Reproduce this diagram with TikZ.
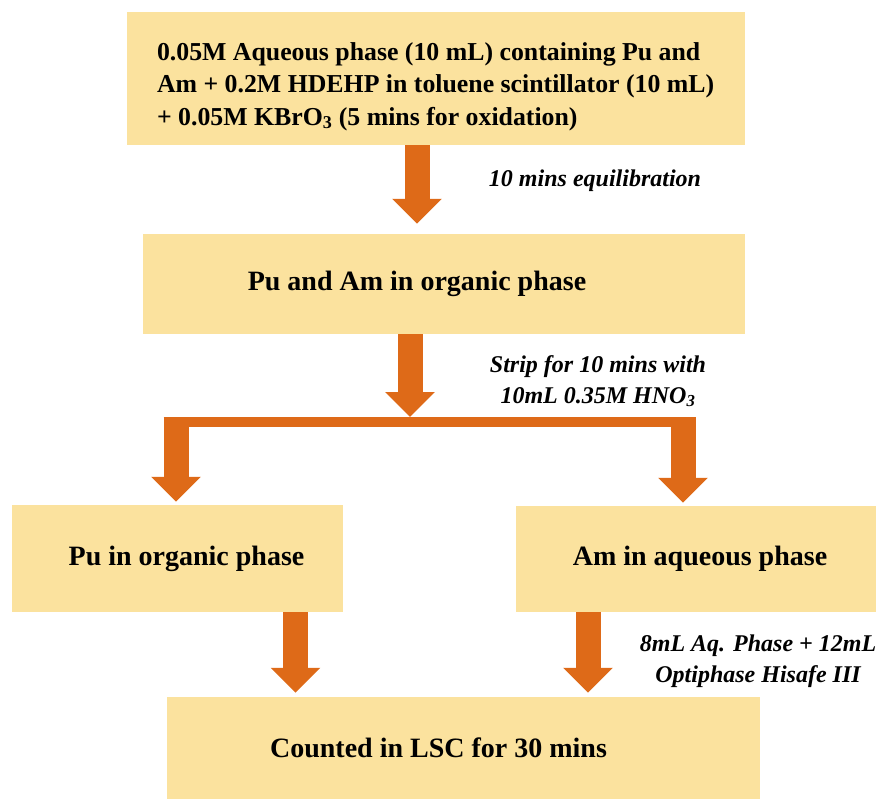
\documentclass[tikz,border=0pt]{standalone}
\usepackage{fontspec}
\setmainfont{Liberation Serif}
\usetikzlibrary{arrows.meta}
\definecolor{boxfill}{RGB}{251,226,158}
\definecolor{arroworange}{RGB}{222,106,24}
\tikzset{
  stepbox/.style={fill=boxfill, inner sep=0pt, font=\fontsize{28}{34}\selectfont\bfseries},
  note/.style={align=center, font=\fontsize{24}{31}\selectfont\bfseries\itshape},
  fatarrow/.style={draw=arroworange, line width=25pt, -{Triangle[width=48pt,length=25pt]}},
  barline/.style={draw=arroworange, line width=10pt}
}

\begin{document}
\begin{tikzpicture}[x=1pt, y=-1pt]
\useasboundingbox (0,0) rectangle (877,799);

% boxes
\node[stepbox, align=left, font=\fontsize{25.8}{32.5}\selectfont\bfseries,
      minimum width=618pt, minimum height=133pt] (start) at (436,78.5)
  {\parbox{558pt}{\vspace*{16pt}0.05M Aqueous phase (10 mL) containing Pu and\\
   Am + 0.2M HDEHP in toluene scintillator (10 mL)\\
   + 0.05M KBrO\textsubscript{3} (5 mins for oxidation)}};
\node[stepbox, minimum width=602pt, minimum height=100pt] (org) at (444,284)
  {Pu and Am in organic phase\hspace*{54pt}};
\node[stepbox, minimum width=331pt, minimum height=107pt] (pu) at (177.5,558.5)
  {\hspace*{18pt}Pu in organic phase};
\node[stepbox, minimum width=360pt, minimum height=106pt] (am) at (696,559)
  {\hspace*{8pt}Am in aqueous phase};
\node[stepbox, minimum width=593pt, minimum height=102pt] (lsc) at (463.5,748)
  {Counted in LSC for 30 mins\hspace*{50pt}};

% labels next to the arrows
\node[note] (equil) at (595,181) {10 mins equilibration};
\node[note] (strip) at (598,381) {Strip for 10 mins with\\10mL 0.35M HNO\textsubscript{3}};
\node[note] (cocktail) at (758,661) {8mL Aq. Phase + 12mL\\Optiphase Hisafe III};

% arrows
\draw[fatarrow, shorten >=10pt] ([xshift=-19pt]start.south) -- ([xshift=-27pt]org.north);
\coordinate (split) at (410,417);
\coordinate (bl) at (176,417);
\coordinate (br) at (683,417);
\draw[fatarrow] (org.south -| split) -- (split);
\draw[barline] ([shift={(-12.5,5)}]bl) -- ([shift={(12.5,5)}]br);
\draw[fatarrow, shorten >=3pt] (bl) -- (pu.north -| bl);
\draw[fatarrow, shorten >=3pt] (br) -- (am.north -| br);
\draw[fatarrow, shorten >=4pt] ([xshift=118pt]pu.south) -- ([xshift=-168pt]lsc.north);
\draw[fatarrow, shorten >=4pt] ([xshift=-108pt]am.south) -- ([xshift=124.5pt]lsc.north);
\end{tikzpicture}
\end{document}
